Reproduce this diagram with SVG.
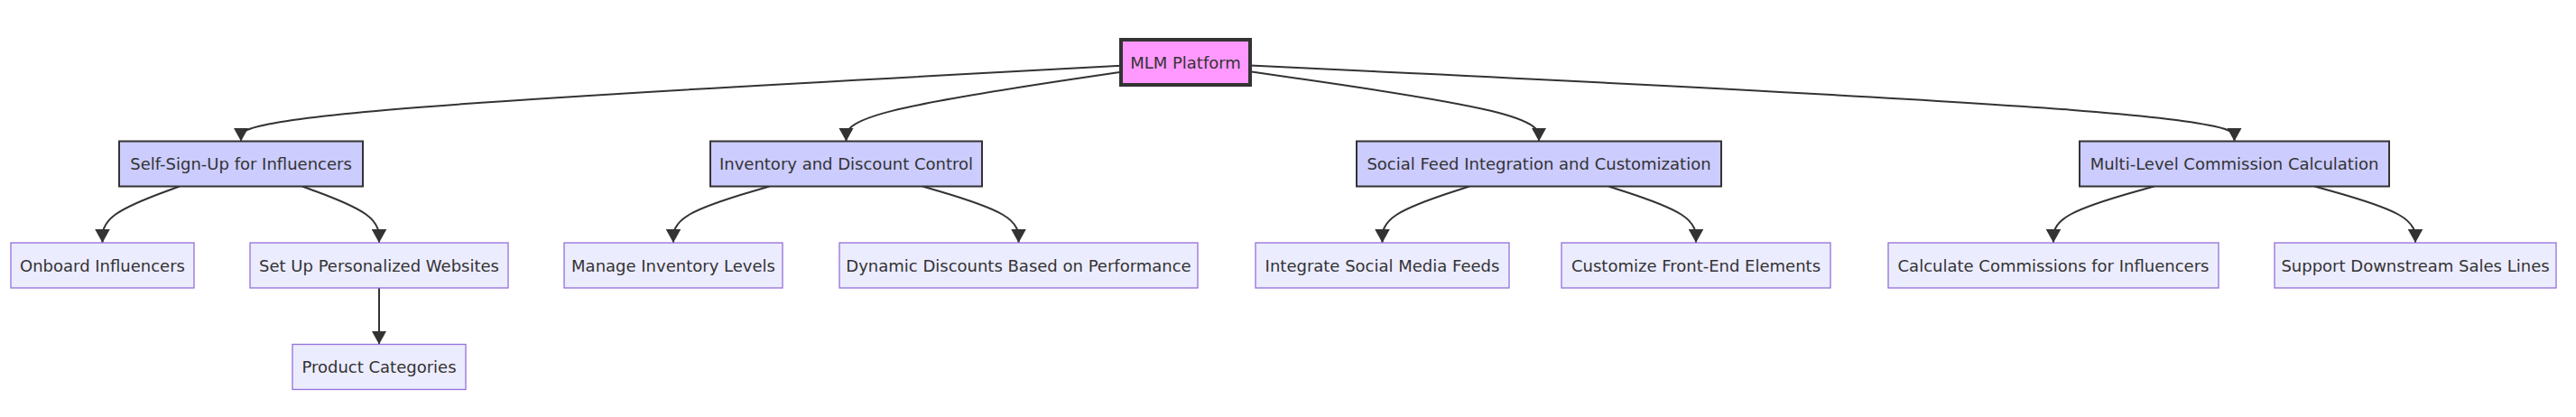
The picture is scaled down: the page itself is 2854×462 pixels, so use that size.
<svg xmlns="http://www.w3.org/2000/svg" width="2854" height="462" viewBox="0 0 2854 462">
<style>
.root rect{fill:#f9f;stroke:#333;stroke-width:4px}
.mid rect{fill:#ccf;stroke:#333;stroke-width:2px}
.leaf rect{fill:#ECECFF;stroke:#9370DB;stroke-width:1.3px}
text{font-family:"DejaVu Sans",Verdana,sans-serif;font-size:18px;fill:#333;text-anchor:middle}
.edges path{fill:none;stroke:#333;stroke-width:2px;marker-end:url(#arrow)}
</style>
<defs>
<marker id="arrow" viewBox="0 0 15 16.6" markerUnits="userSpaceOnUse" markerWidth="15" markerHeight="16.6" refX="15" refY="8.3" orient="auto">
<path d="M0,0 L15,8.3 L0,16.6 z" fill="#333"/>
</marker>
</defs>
<rect width="2854" height="462" fill="#fff"/>
<g class="edges">
<path d="M1242,72.84 L1079.5,81.58 C917,90.31 592,107.78 429.5,121.72 C267,135.67 267,146.08 267,151.29 L267,156.5"/>
<path d="M1242,79.7 L1191.25,87.29 C1140.5,94.88 1039,110.07 988.25,122.87 C937.5,135.67 937.5,146.08 937.5,151.29 L937.5,156.5"/>
<path d="M1385,79.27 L1438.33,86.93 C1491.67,94.6 1598.33,109.92 1651.67,122.8 C1705,135.67 1705,146.08 1705,151.29 L1705,156.5"/>
<path d="M1385,72.46 L1566.75,81.26 C1748.5,90.06 2112,107.65 2293.75,121.66 C2475.5,135.67 2475.5,146.08 2475.5,151.29 L2475.5,156.5"/>
<path d="M198.78,206.5 L184.57,211.71 C170.35,216.92 141.93,227.33 127.71,237.75 C113.5,248.17 113.5,258.58 113.5,263.79 L113.5,269"/>
<path d="M335,206.5 L349.17,211.71 C363.33,216.92 391.67,227.33 405.83,237.75 C420,248.17 420,258.58 420,263.79 L420,269"/>
<path d="M852.39,206.5 L834.66,211.71 C816.93,216.92 781.46,227.33 763.73,237.75 C746,248.17 746,258.58 746,263.79 L746,269"/>
<path d="M1022.39,206.5 L1040.08,211.71 C1057.76,216.92 1093.13,227.33 1110.82,237.75 C1128.5,248.17 1128.5,258.58 1128.5,263.79 L1128.5,269"/>
<path d="M1627.89,206.5 L1611.83,211.71 C1595.76,216.92 1563.63,227.33 1547.57,237.75 C1531.5,248.17 1531.5,258.58 1531.5,263.79 L1531.5,269"/>
<path d="M1782.33,206.5 L1798.44,211.71 C1814.55,216.92 1846.78,227.33 1862.89,237.75 C1879,248.17 1879,258.58 1879,263.79 L1879,269"/>
<path d="M2386.39,206.5 L2367.83,211.71 C2349.26,216.92 2312.13,227.33 2293.57,237.75 C2275,248.17 2275,258.58 2275,263.79 L2275,269"/>
<path d="M2564.61,206.5 L2583.18,211.71 C2601.74,216.92 2638.87,227.33 2657.44,237.75 C2676,248.17 2676,258.58 2676,263.79 L2676,269"/>
<path d="M420,319 L420,381.5"/>
</g>
<g id="mlm" class="root"><rect x="1242" y="44" width="143" height="50"/><text x="1313.5" y="75.5">MLM Platform</text></g>
<g id="signup" class="mid"><rect x="132" y="156.5" width="270" height="50"/><text x="267" y="188">Self-Sign-Up for Influencers</text></g>
<g id="inventory" class="mid"><rect x="787" y="156.5" width="301" height="50"/><text x="937.5" y="188">Inventory and Discount Control</text></g>
<g id="social" class="mid"><rect x="1503" y="156.5" width="404" height="50"/><text x="1705" y="188">Social Feed Integration and Customization</text></g>
<g id="commission" class="mid"><rect x="2304" y="156.5" width="343" height="50"/><text x="2475.5" y="188">Multi-Level Commission Calculation</text></g>
<g id="onboard" class="leaf"><rect x="12" y="269" width="203" height="50"/><text x="113.5" y="300.5">Onboard Influencers</text></g>
<g id="websites" class="leaf"><rect x="277" y="269" width="286" height="50"/><text x="420" y="300.5">Set Up Personalized Websites</text></g>
<g id="categories" class="leaf"><rect x="324" y="381.5" width="192" height="50"/><text x="420" y="413">Product Categories</text></g>
<g id="manage" class="leaf"><rect x="625" y="269" width="242" height="50"/><text x="746" y="300.5">Manage Inventory Levels</text></g>
<g id="dynamic" class="leaf"><rect x="930" y="269" width="397" height="50"/><text x="1128.5" y="300.5">Dynamic Discounts Based on Performance</text></g>
<g id="integrate" class="leaf"><rect x="1391" y="269" width="281" height="50"/><text x="1531.5" y="300.5">Integrate Social Media Feeds</text></g>
<g id="customize" class="leaf"><rect x="1730" y="269" width="298" height="50"/><text x="1879" y="300.5">Customize Front-End Elements</text></g>
<g id="calculate" class="leaf"><rect x="2092" y="269" width="366" height="50"/><text x="2275" y="300.5">Calculate Commissions for Influencers</text></g>
<g id="downstream" class="leaf"><rect x="2520" y="269" width="312" height="50"/><text x="2676" y="300.5">Support Downstream Sales Lines</text></g>
</svg>
